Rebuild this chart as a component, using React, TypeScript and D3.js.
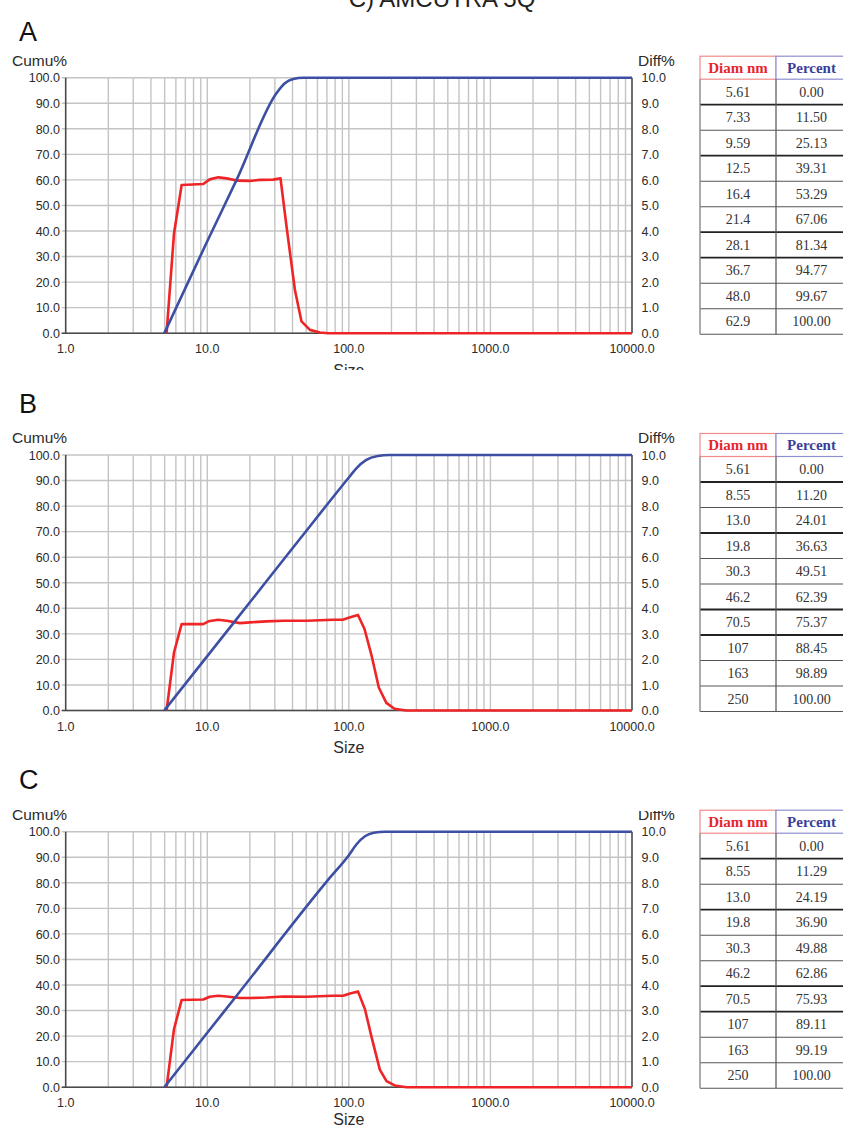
import React from 'react';
import * as d3 from 'd3';

// ---------- DATA ----------
const titleText = 'C) AMCUTRA 5Q';
const panelLabels = ['A', 'B', 'C'];
const xTickValues = [1, 10, 100, 1000, 10000];
const cumuTickValues = [0, 10, 20, 30, 40, 50, 60, 70, 80, 90, 100];
const diffTickValues = [0, 1, 2, 3, 4, 5, 6, 7, 8, 9, 10];

// cumulative % (left axis) : [size, value]
const cumuA: [number, number][] = [
  [4.97, 0], [10, 36], [16.1, 60], [30.8, 93.9], [35.3, 97.8], [40.5, 99.5], [47.6, 100], [10000, 100],
];
const diffA: [number, number][] = [
  [5.16, 0], [5.82, 3.9], [6.59, 5.8], [9.37, 5.84], [10.4, 6.02], [11.96, 6.1], [13.7, 6.06],
  [16.5, 5.97], [20, 5.96], [23.5, 6.0], [29.2, 6.01], [32.9, 6.06], [36.3, 4.17], [41.6, 1.69],
  [46.3, 0.46], [53.1, 0.13], [62.4, 0.03], [71.4, 0], [10000, 0],
];
const cumuB: [number, number][] = [
  [4.97, 0], [10, 21.3], [15.7, 35], [44.9, 67], [101, 91.5], [113, 94.8], [132, 98.0],
  [160, 99.6], [194, 100], [10000, 100],
];
const diffB: [number, number][] = [
  [5.16, 0], [5.82, 2.27], [6.59, 3.38], [9.37, 3.38], [10.2, 3.49], [11.96, 3.55], [13.7, 3.51],
  [17, 3.42], [20, 3.45], [26.1, 3.49], [34.5, 3.51], [50.4, 3.51], [77.5, 3.55], [90.7, 3.55],
  [101, 3.64], [116, 3.74], [129, 3.19], [144, 2.2], [163, 0.89], [184, 0.3], [210, 0.07],
  [254, 0], [10000, 0],
];
const cumuC: [number, number][] = [
  [4.97, 0], [10, 21.3], [15.7, 35], [73.5, 82], [100, 90.8], [113, 95], [130, 98.2],
  [150, 99.6], [180, 100], [10000, 100],
];
const diffC: [number, number][] = [
  [5.16, 0], [5.82, 2.27], [6.59, 3.41], [9.37, 3.43], [10.4, 3.54], [11.96, 3.58], [13.7, 3.55],
  [17, 3.49], [20, 3.49], [26, 3.51], [34.5, 3.55], [50, 3.54], [77, 3.58], [91, 3.58],
  [102, 3.67], [116, 3.75], [130, 3.05], [145, 1.94], [165.5, 0.69], [184.5, 0.24], [211, 0.07],
  [255, 0], [10000, 0],
];

const tableHeaders = ['Diam nm', 'Percent'];
const diamA = ['5.61', '7.33', '9.59', '12.5', '16.4', '21.4', '28.1', '36.7', '48.0', '62.9'];
const pctA = ['0.00', '11.50', '25.13', '39.31', '53.29', '67.06', '81.34', '94.77', '99.67', '100.00'];
const diamB = ['5.61', '8.55', '13.0', '19.8', '30.3', '46.2', '70.5', '107', '163', '250'];
const pctB = ['0.00', '11.20', '24.01', '36.63', '49.51', '62.39', '75.37', '88.45', '98.89', '100.00'];
const diamC = ['5.61', '8.55', '13.0', '19.8', '30.3', '46.2', '70.5', '107', '163', '250'];
const pctC = ['0.00', '11.29', '24.19', '36.90', '49.88', '62.86', '75.93', '89.11', '99.19', '100.00'];

// ---------- LAYOUT ----------
const W = 843;
const H = 1128;
const plotLeft = 65.7;
const plotRight = 632;
const plotH = 255.5;
const SANS = '"Liberation Sans", Arial, sans-serif';
const SERIF = '"Liberation Serif", "Times New Roman", serif';
const RED = '#ee2427';
const BLUE = '#3d4fa3';
const GRID = '#c4c4c4';
const AXIS = '#4a4a4a';
const TXT = '#2b2b2b';

const panels = [
  { top: 77.7, labelY: 41, sizeDy: 42.5, cumu: cumuA, diff: diffA, diam: diamA, pct: pctA, clipBottom: 370, clipDiffTop: null as number | null },
  { top: 455, labelY: 413, sizeDy: 42.5, cumu: cumuB, diff: diffB, diam: diamB, pct: pctB, clipBottom: null as number | null, clipDiffTop: null as number | null },
  { top: 831.7, labelY: 789, sizeDy: 37.5, cumu: cumuC, diff: diffC, diam: diamC, pct: pctC, clipBottom: null as number | null, clipDiffTop: 811 },
];

const thickRows = new Set([0, 2, 5, 6]);

function minorTicks(): number[] {
  const out: number[] = [];
  for (let d = 1; d < 10000; d *= 10) {
    for (let k = 2; k <= 9; k++) out.push(d * k);
  }
  return out;
}

function Panel({ p, idx }: { p: (typeof panels)[number]; idx: number }) {
  const top = p.top;
  const bottom = top + plotH;
  const x = d3.scaleLog().domain([1, 10000]).range([plotLeft, plotRight]);
  const yC = d3.scaleLinear().domain([0, 100]).range([bottom, top]);
  const yD = d3.scaleLinear().domain([0, 10]).range([bottom, top]);
  const lineC = d3.line<[number, number]>().x(d => x(d[0])).y(d => yC(d[1])).curve(d3.curveMonotoneX);
  const lineD = d3.line<[number, number]>().x(d => x(d[0])).y(d => yD(d[1])).curve(d3.curveLinear);
  const clipId = `clipPanel${idx}`;
  const diffClipId = `clipDiff${idx}`;

  // table geometry
  const tLeft = 700;
  const tMid = 776;
  const tRight = 847;
  const headerBottom = top + 1.5;
  const headerTop = headerBottom - 23;
  const rowH = (bottom + 1 - headerBottom) / p.diam.length;

  return (
    <g clipPath={p.clipBottom ? `url(#${clipId})` : undefined}>
      <defs>
        {p.clipBottom && (
          <clipPath id={clipId}>
            <rect x={0} y={0} width={W} height={p.clipBottom} />
          </clipPath>
        )}
        {p.clipDiffTop && (
          <clipPath id={diffClipId}>
            <rect x={0} y={p.clipDiffTop} width={W} height={H} />
          </clipPath>
        )}
      </defs>
      <text x={19} y={p.labelY} fontFamily={SANS} fontSize={27} fill="#111">{panelLabels[idx]}</text>
      <text x={12} y={top - 12} fontFamily={SANS} fontSize={15.5} fill={TXT}>Cumu%</text>
      <text x={638} y={top - 12} fontFamily={SANS} fontSize={15.5} fill={TXT}
        clipPath={p.clipDiffTop ? `url(#${diffClipId})` : undefined}>Diff%</text>

      {/* vertical grid */}
      {minorTicks().map((v, i) => (
        <line key={'vg' + i} x1={x(v)} x2={x(v)} y1={top} y2={bottom} stroke={GRID} strokeWidth={1.4} />
      ))}
      {xTickValues.slice(1, -1).map((v, i) => (
        <line key={'vgm' + i} x1={x(v)} x2={x(v)} y1={top} y2={bottom} stroke={GRID} strokeWidth={1.4} />
      ))}
      {/* horizontal grid */}
      {cumuTickValues.map((v, i) => (
        <line key={'hg' + i} x1={plotLeft - 4} x2={plotRight} y1={yC(v)} y2={yC(v)} stroke={GRID} strokeWidth={1.4} />
      ))}
      {/* axes */}
      <line x1={plotLeft} x2={plotLeft} y1={top} y2={bottom} stroke={AXIS} strokeWidth={1.6} />
      <line x1={plotRight} x2={plotRight} y1={top} y2={bottom} stroke={AXIS} strokeWidth={1.6} />
      <line x1={plotLeft - 4} x2={plotRight} y1={bottom} y2={bottom} stroke={AXIS} strokeWidth={1.6} />

      {/* tick labels */}
      {cumuTickValues.map((v, i) => (
        <text key={'cl' + i} x={60} y={yC(v) + 1.5} textAnchor="end" dominantBaseline="middle"
          fontFamily={SANS} fontSize={12.5} fill={TXT}>{v.toFixed(1)}</text>
      ))}
      {diffTickValues.map((v, i) => (
        <text key={'dl' + i} x={641.5} y={yD(v) + 1.5} textAnchor="start" dominantBaseline="middle"
          fontFamily={SANS} fontSize={12.5} fill={TXT}>{v.toFixed(1)}</text>
      ))}
      {xTickValues.map((v, i) => (
        <text key={'xl' + i} x={x(v)} y={bottom + 20} textAnchor="middle"
          fontFamily={SANS} fontSize={12.5} fill={TXT}>{v.toFixed(1)}</text>
      ))}
      <text x={(plotLeft + plotRight) / 2} y={bottom + p.sizeDy} textAnchor="middle"
        fontFamily={SANS} fontSize={16} fill={TXT}>Size</text>

      {/* curves */}
      <path d={lineD(p.diff) || ''} fill="none" stroke={RED} strokeWidth={2.6} strokeLinejoin="round" />
      <path d={lineC(p.cumu) || ''} fill="none" stroke={BLUE} strokeWidth={2.6} strokeLinejoin="round" />

      {/* table */}
      <rect x={tLeft} y={headerTop} width={tMid - tLeft} height={headerBottom - headerTop} fill="#fff" stroke="#f28a8a" strokeWidth={1.2} />
      <rect x={tMid} y={headerTop} width={tRight - tMid} height={headerBottom - headerTop} fill="#fff" stroke="#8f8fd0" strokeWidth={1.2} />
      <text x={(tLeft + tMid) / 2} y={headerTop + 16.5} textAnchor="middle" fontFamily={SERIF} fontWeight="bold" fontSize={15} fill="#e5262b">{tableHeaders[0]}</text>
      <text x={(tMid + tRight) / 2} y={headerTop + 16.5} textAnchor="middle" fontFamily={SERIF} fontWeight="bold" fontSize={15} fill="#3a3f9b">{tableHeaders[1]}</text>
      {p.diam.map((d, i) => {
        const ry = headerBottom + i * rowH;
        return (
          <g key={'row' + i}>
            <text x={(tLeft + tMid) / 2} y={ry + rowH / 2 + 4.8} textAnchor="middle" fontFamily={SERIF} fontSize={14} fill="#333">{d}</text>
            <text x={(tMid + tRight) / 2} y={ry + rowH / 2 + 4.8} textAnchor="middle" fontFamily={SERIF} fontSize={14} fill="#333">{p.pct[i]}</text>
            <line x1={tLeft} x2={tRight} y1={ry + rowH} y2={ry + rowH} stroke={thickRows.has(i) ? '#222' : '#555'} strokeWidth={thickRows.has(i) ? 1.8 : 1.1} />
          </g>
        );
      })}
      <line x1={tLeft} x2={tLeft} y1={headerBottom} y2={bottom + 1} stroke="#888" strokeWidth={1.4} />
      <line x1={tMid} x2={tMid} y1={headerBottom} y2={bottom + 1} stroke="#555" strokeWidth={1.2} />
      <line x1={tRight - 2} x2={tRight - 2} y1={headerBottom} y2={bottom + 1} stroke="#555" strokeWidth={1.2} />
    </g>
  );
}

export default function App() {
  return (
    <svg width={W} height={H} viewBox={`0 0 ${W} ${H}`}
      style={{ position: 'absolute', left: 0, top: 0, background: '#fff' }}>
      <rect x={0} y={0} width={W} height={H} fill="#fff" />
      <text x={442} y={7} textAnchor="middle" fontFamily={SANS} fontSize={24} fill="#222">{titleText}</text>
      {panels.map((p, i) => (
        <Panel key={i} p={p} idx={i} />
      ))}
    </svg>
  );
}
